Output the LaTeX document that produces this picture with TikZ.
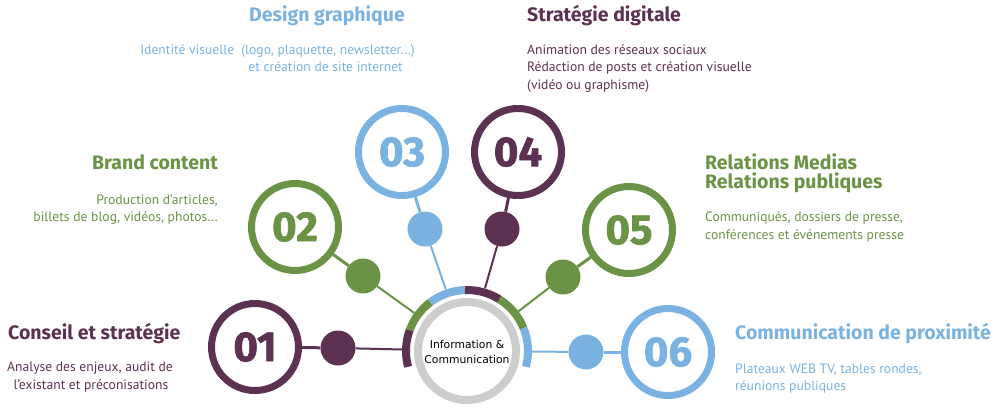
\documentclass[tikz,border=0pt]{standalone}
\usepackage{fontspec}
\setmainfont{PT Sans}
\newfontfamily\headfont{Fira Sans}
\newfontfamily\numfont[BoldFeatures={FakeBold=1.5}]{Fira Sans}
\newfontfamily\hubfont{DejaVu Sans}
\definecolor{cpurple}{HTML}{5C3152}
\definecolor{cgreen}{HTML}{6A9345}
\definecolor{cblue}{HTML}{7AB3E1}
\definecolor{cgray}{HTML}{CDCDCD}
\tikzset{
  numc/.style={circle, draw=#1, text=#1, line width=7pt, minimum size=87pt, inner sep=0pt, fill=white,
    font=\numfont\fontsize{42}{42}\selectfont\bfseries},
  dotc/.style={circle, fill=#1, minimum size=35pt, inner sep=0pt},
  neck/.style={draw=#1, line width=3pt},
  link/.style={draw=#1, line width=2pt},
  head/.style={text=#1, inner sep=0pt, font=\headfont\fontsize{19.5}{21}\selectfont\bfseries},
  body/.style={text=#1, inner sep=0pt, font=\fontsize{13.6}{17}\selectfont},
  seg/.style={draw=#1, line width=8pt},
}
\begin{document}
\begin{tikzpicture}[x=1pt,y=-1pt]
\useasboundingbox (0,0) rectangle (1000,407);
% hub
\coordinate (hc) at (467,351);
\node[circle, minimum size=130pt, inner sep=0pt] (hub) at (hc) {};
\draw[cgray, line width=8pt] (hc) circle[radius=49];
% colored arc (y flipped)
\draw[seg=cpurple] ([shift={(-195:61)}]hc) arc[start angle=-195, end angle=-160, radius=61];
\draw[seg=cgreen]  ([shift={(-160:61)}]hc) arc[start angle=-160, end angle=-127, radius=61];
\draw[seg=cblue]   ([shift={(-127:61)}]hc) arc[start angle=-127, end angle=-92, radius=61];
\draw[seg=cpurple] ([shift={(-92:61)}]hc) arc[start angle=-92, end angle=-58, radius=61];
\draw[seg=cgreen]  ([shift={(-58:61)}]hc) arc[start angle=-58, end angle=-22, radius=61];
\draw[seg=cblue]   ([shift={(-22:61)}]hc) arc[start angle=-22, end angle=15, radius=61];
\node[align=center, font=\hubfont\fontsize{10.8}{15.5}\selectfont, inner sep=0pt] (hubtext) at (467,352) {Information \&\\Communication};

% dots
\node[dotc=cpurple] (d1) at (338,348) {};
\node[dotc=cgreen]  (d2) at (363,276) {};
\node[dotc=cblue]   (d3) at (425,229) {};
\node[dotc=cpurple] (d4) at (502,229) {};
\node[dotc=cgreen]  (d5) at (563,277) {};
\node[dotc=cblue]   (d6) at (586,352) {};
% links to hub
\draw[link=cpurple] (d1) -- (hub);
\draw[link=cgreen]  (d2) -- (hub);
\draw[link=cblue]   (d3) -- (hub);
\draw[link=cpurple] (d4) -- (hub);
\draw[link=cgreen]  (d5) -- (hub);
\draw[link=cblue]   (d6) -- (hub);
% numbered circles
\node[numc=cpurple] (n1) at (255,347) {01};
\node[numc=cgreen]  (n2) at (295,227) {02};
\node[numc=cblue]   (n3) at (402,152) {03};
\node[numc=cpurple] (n4) at (518,152) {04};
\node[numc=cgreen]  (n5) at (629,230) {05};
\node[numc=cblue]   (n6) at (668,352) {06};
\draw[neck=cpurple] (n1) -- (d1);
\draw[neck=cgreen]  (n2) -- (d2);
\draw[neck=cblue]   (n3) -- (d3);
\draw[neck=cpurple] (n4) -- (d4);
\draw[neck=cgreen]  (n5) -- (d5);
\draw[neck=cblue]   (n6) -- (d6);

% texts
\node[head=cblue, anchor=base] (h3) at (327,21) {Design graphique};
\node[body=cblue, anchor=base east] (b3a) at (415,54) {Identité visuelle\ \ (logo, plaquette, newsletter...)};
\node[body=cblue, anchor=base east] (b3b) at (403,71) {et création de site internet};

\node[head=cpurple, anchor=base west] (h4) at (527,21) {Stratégie digitale};
\node[body=cpurple, anchor=base west] (b4a) at (527,54) {Animation des réseaux sociaux};
\node[body=cpurple, anchor=base west] (b4b) at (527,71) {Rédaction de posts et création visuelle};
\node[body=cpurple, anchor=base west] (b4c) at (527,89) {(vidéo ou graphisme)};

\node[head=cgreen, anchor=base] (h2) at (155,169) {Brand content};
\node[body=cgreen, anchor=base east] (b2a) at (218,204) {Production d’articles,};
\node[body=cgreen, anchor=base east] (b2b) at (218,221) {billets de blog, vidéos, photos...};

\node[head=cgreen, anchor=base west] (h5a) at (705,169) {Relations Medias};
\node[head=cgreen, anchor=base west] (h5b) at (705,188) {Relations publiques};
\node[body=cgreen, anchor=base west] (b5a) at (705,221) {Communiqués, dossiers de presse,};
\node[body=cgreen, anchor=base west] (b5b) at (705,239) {conférences et événements presse};

\node[head=cpurple, anchor=base west] (h1) at (8,339) {Conseil et stratégie};
\node[body=cpurple, anchor=base] (b1a) at (90,371) {Analyse des enjeux, audit de};
\node[body=cpurple, anchor=base] (b1b) at (91,389) {l’existant et préconisations};

\node[head=cblue, anchor=base west] (h6) at (735,339) {Communication de proximité};
\node[body=cblue, anchor=base west] (b6a) at (735,373) {Plateaux WEB TV, tables rondes,};
\node[body=cblue, anchor=base west] (b6b) at (735,390) {réunions publiques};
\end{tikzpicture}
\end{document}
